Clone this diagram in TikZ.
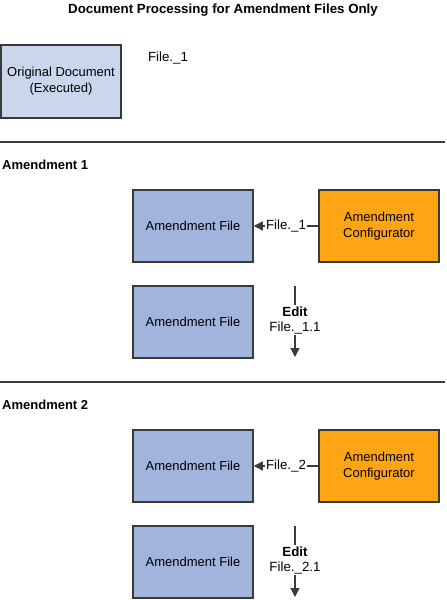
\documentclass[tikz,border=0pt]{standalone}
\usepackage{fontspec}
\setmainfont{Liberation Sans}
\usetikzlibrary{calc}
\usetikzlibrary{positioning}
\usetikzlibrary{arrows.meta}
\definecolor{origfill}{HTML}{C9D6EC}
\definecolor{filefill}{HTML}{A0B4DC}
\definecolor{cfgfill}{HTML}{FFA514}
\definecolor{edge}{HTML}{3A3A3A}
\tikzset{docbox/.style={
    draw=edge,
    line width=1.5pt,
    minimum width=120pt,
    minimum height=72pt,
    align=center,
    inner sep=2pt,
    font=\fontsize{13}{16}\selectfont
  },
  orig doc/.style={docbox,fill=origfill},
  amend file/.style={docbox,fill=filefill},
  configurator/.style={docbox,fill=cfgfill},
  flow label/.style={font=\fontsize{13.3}{15}\selectfont,align=center,inner sep=1pt},
  section title/.style={font=\bfseries\fontsize{13}{15}\selectfont,anchor=west,inner sep=0pt},
  divider/.style={draw=edge,line width=1.2pt},
  flow/.style={draw=edge,line width=1.2pt},
}

\begin{document}
\begin{tikzpicture}[x=1pt,y=-1pt,>={Triangle[length=9pt,width=9pt]}]
  \useasboundingbox (0,0) rectangle (447,600);

  \node[font=\bfseries\fontsize{13.3}{15}\selectfont] (title) at (223,10)
    {Document Processing for Amendment Files Only};

  \node[orig doc,minimum height=73pt] (orig) at (61,81.5)
    {Original Document\\(Executed)};
  \node[flow label] (origfile) at (168,58) {File.\_1};

  \foreach \n/\dy in {1/0,2/240}{
    \begin{scope}[yshift=-\dy pt]
      \path[divider] (0,142) -- (445,142);
      \node[section title] (sec\n) at (2,165) {Amendment \n};

      \node[amend file]   (af\n)  at (193,226) {Amendment File};
      \node[configurator] (cfg\n) at (379,226) {Amendment\\Configurator};
      \node[amend file]   (ed\n)  at (193,322) {Amendment File};

      \node[flow label,fill=white] (fl\n) at ($(af\n.east)!0.5!(cfg\n.west)$) {File.\_\n};
      \draw[flow] (cfg\n.west) -- (fl\n.east);
      \draw[flow,->] (fl\n.west) -- (af\n.east);

      \coordinate (edtop\n) at (295,286);
      \coordinate (edbot\n) at (295,357);
      \node[flow label] (edlbl\n) at (295,320) {\textbf{Edit}\\File.\_\n.1};
      \draw[flow] (edtop\n) -- (edlbl\n.north);
      \draw[flow,->] (edlbl\n.south) -- (edbot\n);
    \end{scope}
  }
\end{tikzpicture}
\end{document}
